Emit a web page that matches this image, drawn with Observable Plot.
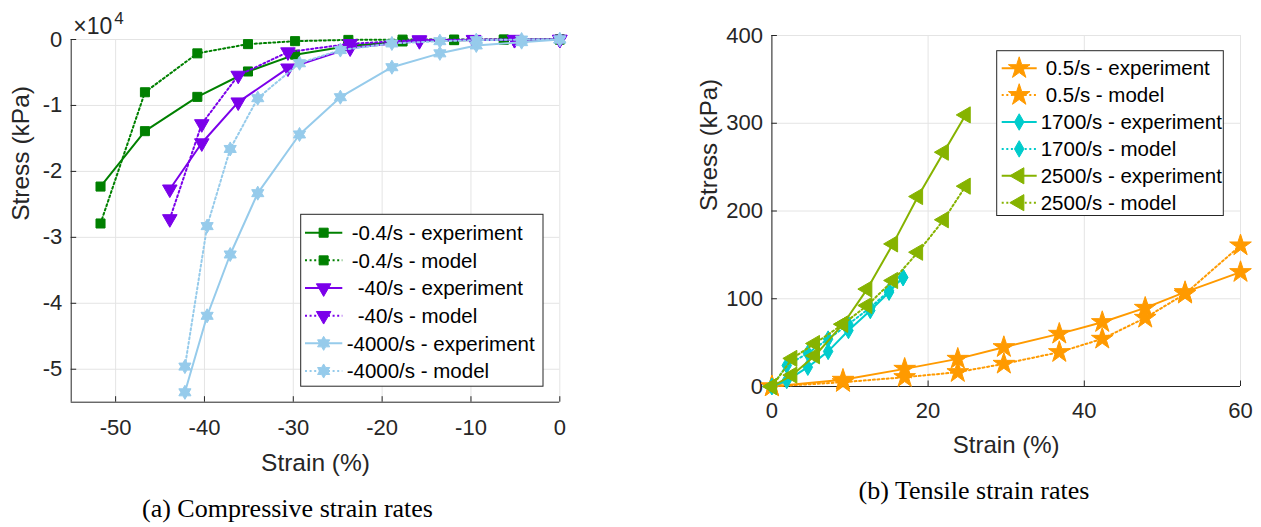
<!DOCTYPE html>
<html>
<head>
<meta charset="utf-8">
<script src="https://cdn.jsdelivr.net/npm/d3@7"></script>
<script src="https://cdn.jsdelivr.net/npm/@observablehq/plot@0.6"></script>
<style>
  html, body { margin: 0; padding: 0; background: #fff; }
  #fig { position: relative; width: 1261px; height: 527px; overflow: hidden; }
  #fig > svg { position: absolute; }
  #fig g[aria-label$="tick label"],
  #fig g[aria-label$="tick label"] text { font-size: 22px !important; }
</style>
</head>
<body>
<div id="fig"></div>
<script>
// ---------- Compressive tests: strain (%) and stress (kPa) ----------
const compStrainSlow = [-51.7, -46.7, -40.8, -35.1, -29.8, -23.8, -17.7, -11.9, -6.3, 0];
const compSlowExperiment = [-22300, -13900, -8700, -4850, -2300, -1000, -300, -100, -30, 0];
const compSlowModel = [-27900, -8000, -2100, -700, -250, -60, -15, -5, 0, 0];

const compStrainMid = [-43.9, -40.3, -36.2, -30.6, -23.6, -15.8, -9.7, -5.1, 0];
const compMidExperiment = [-22700, -15700, -9500, -4350, -1300, -200, -80, -30, 0];
const compMidModel = [-27200, -12800, -5450, -1900, -650, -60, -15, -5, 0];

const compStrainFast = [-42.2, -39.7, -37.1, -34.0, -29.3, -24.7, -18.9, -13.5, -9.4, -4.3, 0];
const compFastExperiment = [-53500, -41900, -32600, -23300, -14400, -8750, -4200, -2100, -900, -400, 0];
const compFastModel = [-49600, -28300, -16600, -8900, -3600, -1600, -600, -250, -100, -10, 0];

const compRateLabels = ["-0.4/s", "-40/s", "-4000/s"];
const compStrainTicks = [-50, -40, -30, -20, -10, 0];
const compStressTicks = [-50000, -40000, -30000, -20000, -10000, 0];
const compStrainDomain = [-55, 0];
const compStressDomain = [-55000, 0];
const compStressExponent = 4;

// ---------- Tensile tests: strain (%) and stress (kPa) ----------
const tenStrainSlow = [0, 9.1, 17.0, 23.8, 29.7, 36.8, 42.3, 47.8, 52.9, 60];
const tenSlowExperiment = [0, 7.6, 20.1, 31.5, 44.8, 60, 73.3, 89.6, 107.5, 130.3];
const tenSlowModel = [0, 4.9, 10.6, 16.3, 25.8, 39.1, 54.3, 78.2, 105.6, 160.7];

const tenStrainMid = [0, 1.9, 4.6, 7.2, 9.8, 12.6, 15.0, 16.8];
const tenMidExperiment = [0, 6.8, 22, 40, 63.8, 86.6, 107.5, 124.6];
const tenMidModel = [0, 24, 38, 54, 71, 90, 109, 124];

const tenStrainFast = [0, 2.6, 5.5, 9.1, 12.2, 15.5, 18.7, 22.0, 24.8];
const tenFastExperiment = [0, 13, 35, 71, 111, 162.5, 216.5, 267, 309.5];
const tenFastModel = [0, 32, 49, 71, 92.3, 120.8, 153, 190, 228.3];

const tenRateLabels = ["0.5/s", "1700/s", "2500/s"];
const tenStrainTicks = [0, 20, 40, 60];
const tenStressTicks = [0, 100, 200, 300, 400];
const tenStrainDomain = [0, 60];
const tenStressDomain = [0, 400];

const captions = ["(a) Compressive strain rates", "(b) Tensile strain rates"];

// ---------- Styling ----------
const SANS = '"Liberation Sans", Arial, Helvetica, sans-serif';
const SERIF = '"Liberation Serif", "Times New Roman", Times, serif';
const INK = "#262626";
const GRID = "#e4e4e4";
const DOTTED = "2 2.6";

// six-pointed star marker
const hexagram = {
  draw(context, size) {
    const R = Math.sqrt(size / Math.PI) * 1.3;
    const r = R / Math.sqrt(3);
    for (let i = 0; i < 12; i++) {
      const a = i * Math.PI / 6 - Math.PI / 2;
      const k = i % 2 ? r : R;
      if (i === 0) context.moveTo(k * Math.cos(a), k * Math.sin(a));
      else context.lineTo(k * Math.cos(a), k * Math.sin(a));
    }
    context.closePath();
  }
};
const SYMBOLS = {
  square: d3.symbolSquare, triangle: d3.symbolTriangle, star: d3.symbolStar,
  diamond: d3.symbolDiamond, hexagram
};

function makeSeries(label, strain, stress, style) {
  return {label, rows: strain.map((s, i) => ({strain: s, stress: stress[i]})), ...style};
}

const compSeries = [
  makeSeries(`${compRateLabels[0]} - experiment`, compStrainSlow, compSlowExperiment, {color: "#008000", dash: null, symbol: "square", r: 5.1, rotate: 0, nudge: 5}),
  makeSeries(`${compRateLabels[0]} - model`, compStrainSlow, compSlowModel, {color: "#008000", dash: DOTTED, symbol: "square", r: 5.1, rotate: 0, nudge: 5}),
  makeSeries(`${compRateLabels[1]} - experiment`, compStrainMid, compMidExperiment, {color: "#7b00ea", dash: null, symbol: "triangle", r: 5.4, rotate: 180, nudge: 11}),
  makeSeries(`${compRateLabels[1]} - model`, compStrainMid, compMidModel, {color: "#7b00ea", dash: DOTTED, symbol: "triangle", r: 5.4, rotate: 180, nudge: 11}),
  makeSeries(`${compRateLabels[2]} - experiment`, compStrainFast, compFastExperiment, {color: "#96cbeb", dash: null, symbol: "hexagram", r: 5.4, rotate: 0, nudge: 0}),
  makeSeries(`${compRateLabels[2]} - model`, compStrainFast, compFastModel, {color: "#96cbeb", dash: DOTTED, symbol: "hexagram", r: 5.4, rotate: 0, nudge: 0})
];

const tenSeries = [
  makeSeries(`${tenRateLabels[0]} - experiment`, tenStrainSlow, tenSlowExperiment, {color: "#ff9a00", dash: null, symbol: "star", r: 6.8, rotate: 0, nudge: 5}),
  makeSeries(`${tenRateLabels[0]} - model`, tenStrainSlow, tenSlowModel, {color: "#ff9a00", dash: DOTTED, symbol: "star", r: 6.8, rotate: 0, nudge: 5}),
  makeSeries(`${tenRateLabels[1]} - experiment`, tenStrainMid, tenMidExperiment, {color: "#00cccc", dash: null, symbol: "diamond", r: 5.0, rotate: 0, nudge: 0}),
  makeSeries(`${tenRateLabels[1]} - model`, tenStrainMid, tenMidModel, {color: "#00cccc", dash: DOTTED, symbol: "diamond", r: 5.0, rotate: 0, nudge: 0}),
  makeSeries(`${tenRateLabels[2]} - experiment`, tenStrainFast, tenFastExperiment, {color: "#86b300", dash: null, symbol: "triangle", r: 6.0, rotate: -90, nudge: 0}),
  makeSeries(`${tenRateLabels[2]} - model`, tenStrainFast, tenFastModel, {color: "#86b300", dash: DOTTED, symbol: "triangle", r: 6.0, rotate: -90, nudge: 0})
];

function seriesMarks(series) {
  return series.flatMap(s => [
    Plot.line(s.rows, {x: "strain", y: "stress", stroke: s.color, strokeWidth: 2,
      strokeDasharray: s.dash ?? undefined, strokeLinejoin: "round"}),
    Plot.dot(s.rows, {x: "strain", y: "stress", symbol: SYMBOLS[s.symbol], r: s.r,
      rotate: s.rotate, fill: s.color, stroke: s.color, strokeWidth: 1})
  ]);
}

// Axes in the MATLAB style: light grid, dark left/bottom lines, inward ticks.
function axisMarks({xTicks, yTicks, xDomain, yDomain, plotW, plotH, xFormat, yFormat, xPad, yPad}) {
  return [
    Plot.gridX(xTicks, {stroke: GRID, strokeOpacity: 1}),
    Plot.gridY(yTicks, {stroke: GRID, strokeOpacity: 1}),
    Plot.ruleX([xDomain[0]], {stroke: INK, strokeWidth: 1}),
    Plot.ruleY([yDomain[0]], {stroke: INK, strokeWidth: 1}),
    Plot.ruleX(xTicks, {x: d => d, insetTop: plotH - 5.5, stroke: INK}),
    Plot.ruleY(yTicks, {y: d => d, insetRight: plotW - 5.5, stroke: INK}),
    Plot.axisX(xTicks, {tickSize: 0, tickPadding: xPad, tickFormat: xFormat, label: null, fill: INK, fontSize: 22}),
    Plot.axisY(yTicks, {tickSize: 0, tickPadding: yPad, tickFormat: yFormat, label: null, fill: INK, fontSize: 22})
  ];
}

const fig = document.getElementById("fig");

// ---------- (a) compressive ----------
const A = {width: 600, height: 470, left: 70.7, right: 40.7, top: 39, bottom: 68.3};
const compPlot = Plot.plot({
  width: A.width, height: A.height,
  marginLeft: A.left, marginRight: A.right, marginTop: A.top, marginBottom: A.bottom,
  style: {fontFamily: SANS, fontSize: "22px", color: INK, background: "transparent", overflow: "visible"},
  x: {domain: compStrainDomain},
  y: {domain: compStressDomain},
  marks: [
    ...axisMarks({
      xTicks: compStrainTicks, yTicks: compStressTicks, xDomain: compStrainDomain, yDomain: compStressDomain,
      plotW: A.width - A.left - A.right, plotH: A.height - A.top - A.bottom,
      xFormat: d => String(d), yFormat: d => String(d / 10 ** compStressExponent), xPad: 17.5, yPad: 9
    }),
    ...seriesMarks(compSeries),
    Plot.text(["Strain (%)"], {frameAnchor: "bottom", lineAnchor: "bottom", dy: 68.8, fontSize: 24.5, fill: INK}),
    Plot.text(["Stress (kPa)"], {frameAnchor: "left", rotate: -90, lineAnchor: "bottom", dx: -42, fontSize: 24.5, fill: INK}),
    Plot.text(["×10"], {frameAnchor: "top-left", textAnchor: "start", lineAnchor: "bottom", dx: 2, dy: -5.5, fontSize: 23, fill: INK}),
    Plot.text([String(compStressExponent)], {frameAnchor: "top-left", textAnchor: "start", lineAnchor: "bottom", dx: 43, dy: -16, fontSize: 17, fill: INK})
  ]
});
compPlot.style.left = "0px";
compPlot.style.top = "0px";
fig.appendChild(compPlot);

// ---------- (b) tensile ----------
const B = {x: 640, width: 621, height: 470, left: 131.4, right: 21, top: 35, bottom: 84};
const tenPlot = Plot.plot({
  width: B.width, height: B.height,
  marginLeft: B.left, marginRight: B.right, marginTop: B.top, marginBottom: B.bottom,
  style: {fontFamily: SANS, fontSize: "22px", color: INK, background: "transparent", overflow: "visible"},
  x: {domain: tenStrainDomain},
  y: {domain: tenStressDomain},
  marks: [
    ...axisMarks({
      xTicks: tenStrainTicks, yTicks: tenStressTicks, xDomain: tenStrainDomain, yDomain: tenStressDomain,
      plotW: B.width - B.left - B.right, plotH: B.height - B.top - B.bottom,
      xFormat: d => String(d), yFormat: d => String(d), xPad: 15.5, yPad: 9
    }),
    ...seriesMarks(tenSeries),
    Plot.text(["Strain (%)"], {frameAnchor: "bottom", lineAnchor: "bottom", dy: 66, fontSize: 24, fill: INK}),
    Plot.text(["Stress (kPa)"], {frameAnchor: "left", rotate: -90, lineAnchor: "bottom", dx: -55, fontSize: 24, fill: INK})
  ]
});
tenPlot.style.left = B.x + "px";
tenPlot.style.top = "0px";
fig.appendChild(tenPlot);

// ---------- legends and captions ----------
const overlay = d3.select(fig).append("svg")
  .attr("width", 1261).attr("height", 527)
  .style("left", "0px").style("top", "0px")
  .style("pointer-events", "none");

function drawLegend(series, box) {
  const g = overlay.append("g");
  g.append("rect")
    .attr("x", box.x0).attr("y", box.y0)
    .attr("width", box.x1 - box.x0).attr("height", box.y1 - box.y0)
    .attr("fill", "#fff").attr("stroke", INK).attr("stroke-width", 1);
  series.forEach((s, i) => {
    const y = box.row0 + i * box.rowStep;
    g.append("line")
      .attr("x1", box.lineX1).attr("x2", box.lineX2).attr("y1", y).attr("y2", y)
      .attr("stroke", s.color).attr("stroke-width", 2)
      .attr("stroke-dasharray", s.dash);
    g.append("path")
      .attr("d", d3.symbol(SYMBOLS[s.symbol], Math.PI * s.r * s.r)())
      .attr("transform", `translate(${(box.lineX1 + box.lineX2) / 2},${y}) rotate(${s.rotate})`)
      .attr("fill", s.color).attr("stroke", s.color).attr("stroke-width", 1);
    g.append("text")
      .attr("x", box.textX + s.nudge).attr("y", y).attr("dy", "0.35em")
      .attr("font-family", SANS).attr("font-size", 20.5).attr("fill", "#000")
      .text(s.label);
  });
}

drawLegend(compSeries, {x0: 300.7, y0: 214.3, x1: 543, y1: 386.2, row0: 232.7, rowStep: 27.66,
  lineX1: 305, lineX2: 342.3, textX: 346.7});
drawLegend(tenSeries, {x0: 996.7, y0: 50.7, x1: 1223.3, y1: 215.5, row0: 68.2, rowStep: 26.9,
  lineX1: 1001.7, lineX2: 1036.7, textX: 1040.7});

overlay.append("text").attr("x", 287.5).attr("y", 517).attr("text-anchor", "middle")
  .attr("font-family", SERIF).attr("font-size", 26).attr("fill", "#000").text(captions[0]);
overlay.append("text").attr("x", 974).attr("y", 499).attr("text-anchor", "middle")
  .attr("font-family", SERIF).attr("font-size", 26).attr("fill", "#000").text(captions[1]);
</script>
</body>
</html>
